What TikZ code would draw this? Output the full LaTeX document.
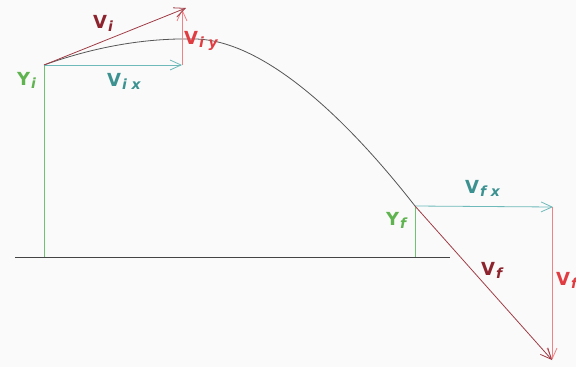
\documentclass[tikz,border=0pt]{standalone}
\usepackage{fontspec}
\setmainfont{DejaVu Sans}
\usetikzlibrary{arrows.meta}
\definecolor{bg}{RGB}{250,250,250}
\definecolor{dred}{RGB}{160,60,70}
\definecolor{dredtxt}{RGB}{140,35,45}
\definecolor{pred}{RGB}{238,130,135}
\definecolor{predtxt}{RGB}{225,60,65}
\definecolor{teal1}{RGB}{110,185,185}
\definecolor{tealtxt}{RGB}{60,145,145}
\definecolor{grn}{RGB}{110,195,110}
\definecolor{grntxt}{RGB}{95,180,80}
\definecolor{curvec}{RGB}{85,85,85}
\newcommand{\lab}[2]{#1\hspace{1pt}\raisebox{-0.4ex}{\fontsize{14}{14}\selectfont\bfseries\itshape #2}}
\tikzset{
  vec/.style={line width=0.8pt,-{Straight Barb[length=11pt,width=10pt]}},
  plain/.style={line width=0.8pt},
  lbl/.style={inner sep=0pt,anchor=base west,font=\fontsize{18}{18}\selectfont\bfseries}
}
\begin{document}
\begin{tikzpicture}[x=1pt,y=-1pt]
\fill[bg] (0,0) rectangle (576,367);
\useasboundingbox (0,0) rectangle (576,367);
% points
\coordinate (A) at (44,65);
\coordinate (Ab) at (44,257);
\coordinate (Bx) at (182,65);
\coordinate (By) at (182,9);
\coordinate (C) at (186,8);
\coordinate (D) at (415,206);
\coordinate (Db) at (415,257);
\coordinate (E) at (553,207);
\coordinate (Eb) at (552,207);
\coordinate (F) at (552,360);
\coordinate (G1) at (15,257);
\coordinate (G2) at (450,257);
% ground
\draw[plain,curvec!80!black] (G1) -- (G2);
% heights
\draw[plain,grn] (A) -- (Ab);
\draw[plain,grn] (D) -- (Db);
% trajectory
\draw[plain,curvec] (A) .. controls (100,45) and (150,38) .. (195,39)
  .. controls (260,40) and (340,110) .. (D);
% initial vectors
\draw[vec,teal1] (A) -- (Bx);
\draw[vec,pred] (Bx) -- (By);
\draw[vec,dred] (A) -- (C);
% final vectors
\draw[vec,teal1] (D) -- (E);
\draw[vec,pred] (Eb) -- (F);
\draw[vec,dred] (D) -- (F);
% labels
\node[lbl,text=dredtxt] (lvi) at (93,28) {\lab{V}{i}};
\node[lbl,text=predtxt] (lviy) at (184,44) {\lab{V}{i\,\,y}};
\node[lbl,text=tealtxt] (lvix) at (107,86) {\lab{V}{i\,\,x}};
\node[lbl,text=grntxt] (lyi) at (17,85) {\lab{Y}{i}};
\node[lbl,text=grntxt] (lyf) at (386,225) {\lab{Y}{f}};
\node[lbl,text=tealtxt] (lvfx) at (465,193) {\lab{V}{f\,\,x}};
\node[lbl,text=dredtxt] (lvf) at (481,275) {\lab{V}{f}};
\node[lbl,text=predtxt] (lvfy) at (556,285) {\lab{V}{f}};
\end{tikzpicture}
\end{document}
